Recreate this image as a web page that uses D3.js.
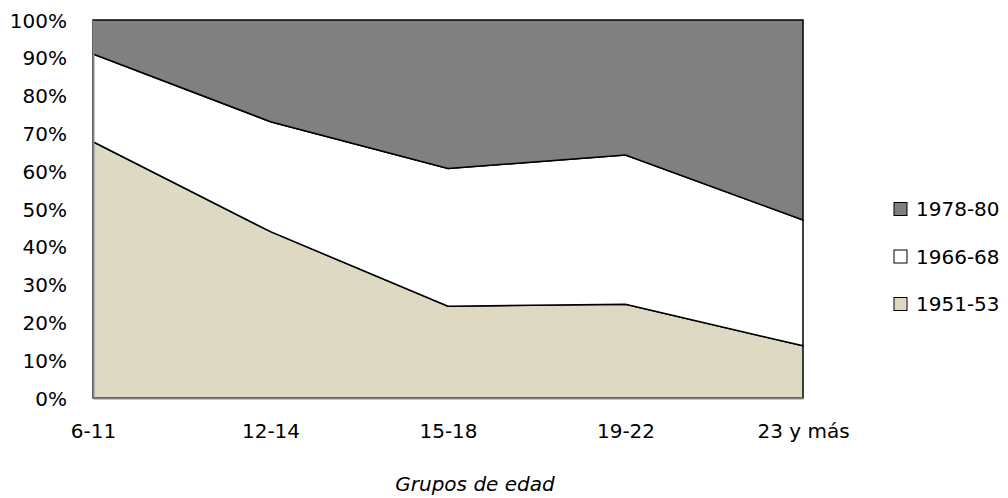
<!DOCTYPE html>
<html>
<head>
<meta charset="utf-8">
<script src="https://cdn.jsdelivr.net/npm/d3@7"></script>
<style>
  body { margin: 0; background: #fff; }
  text { font-family: "DejaVu Sans", sans-serif; font-size: 20px; fill: #000; }
</style>
</head>
<body>
<svg id="chart" width="1008" height="498"></svg>
<script>
// age groups on the x axis
const grupos = ["6-11", "12-14", "15-18", "19-22", "23 y más"];

// percentage share of each cohort per age group
const cohorte1951 = [67.8, 44.0, 24.3, 24.8, 13.8];
const cohorte1966 = [23.2, 29.1, 36.4, 39.5, 33.3];
const cohorte1978 = [9.0, 26.9, 39.3, 35.7, 52.9];

const seriesNames = ["1951-53", "1966-68", "1978-80"];
const seriesColors = ["#ddd9c3", "#ffffff", "#808080"];
const yTicks = [0, 0.1, 0.2, 0.3, 0.4, 0.5, 0.6, 0.7, 0.8, 0.9, 1];

// build rows for d3.stack
const rows = grupos.map((g, i) => ({
    grupo: g,
    "1951-53": cohorte1951[i],
    "1966-68": cohorte1966[i],
    "1978-80": cohorte1978[i]
}));

const svg = d3.select("#chart");
const plot = { left: 93, right: 803, top: 20, bottom: 398 };

const x = d3.scalePoint().domain(grupos).range([plot.left, plot.right]);
const y = d3.scaleLinear().domain([0, 1]).range([plot.bottom, plot.top]);

const stacked = d3.stack()
    .keys(seriesNames)
    .offset(d3.stackOffsetExpand)(rows);

const area = d3.area()
    .x(d => x(d.data.grupo))
    .y0(d => y(d[0]))
    .y1(d => y(d[1]));

// areas, outlined in black like the spreadsheet chart
svg.append("g")
    .selectAll("path")
    .data(stacked)
    .join("path")
    .attr("d", area)
    .attr("fill", (d, i) => seriesColors[i])
    .attr("stroke", "#000")
    .attr("stroke-width", 1.5)
    .attr("stroke-linejoin", "miter");

// y axis
const yAxis = svg.append("g")
    .attr("transform", `translate(${plot.left},0)`)
    .call(d3.axisLeft(y).tickValues(yTicks).tickFormat(d3.format(".0%")).tickSize(0).tickPadding(26));
yAxis.select(".domain").attr("stroke", "#868686").attr("stroke-width", 2);
yAxis.selectAll("text").attr("dy", "0.35em");

// x axis
const xAxis = svg.append("g")
    .attr("transform", `translate(0,${plot.bottom})`)
    .call(d3.axisBottom(x).tickSize(0).tickPadding(26));
xAxis.select(".domain").attr("stroke", "#868686").attr("stroke-width", 2);
xAxis.selectAll("text").attr("dy", "0.71em");

// axis title
svg.append("text")
    .attr("x", 475)
    .attr("y", 491)
    .attr("text-anchor", "middle")
    .style("font-style", "italic")
    .text("Grupos de edad");

// legend, top series first
const legendOrder = seriesNames.slice().reverse();
const legend = svg.append("g")
    .selectAll("g")
    .data(legendOrder)
    .join("g")
    .attr("transform", (d, i) => `translate(894,${209 + i * 47.5})`);

legend.append("rect")
    .attr("x", 0)
    .attr("y", -6.5)
    .attr("width", 13)
    .attr("height", 13)
    .attr("fill", d => seriesColors[seriesNames.indexOf(d)])
    .attr("stroke", "#000")
    .attr("stroke-width", 1);

legend.append("text")
    .attr("x", 22)
    .attr("y", 0)
    .attr("dy", "0.35em")
    .text(d => d);
</script>
</body>
</html>
